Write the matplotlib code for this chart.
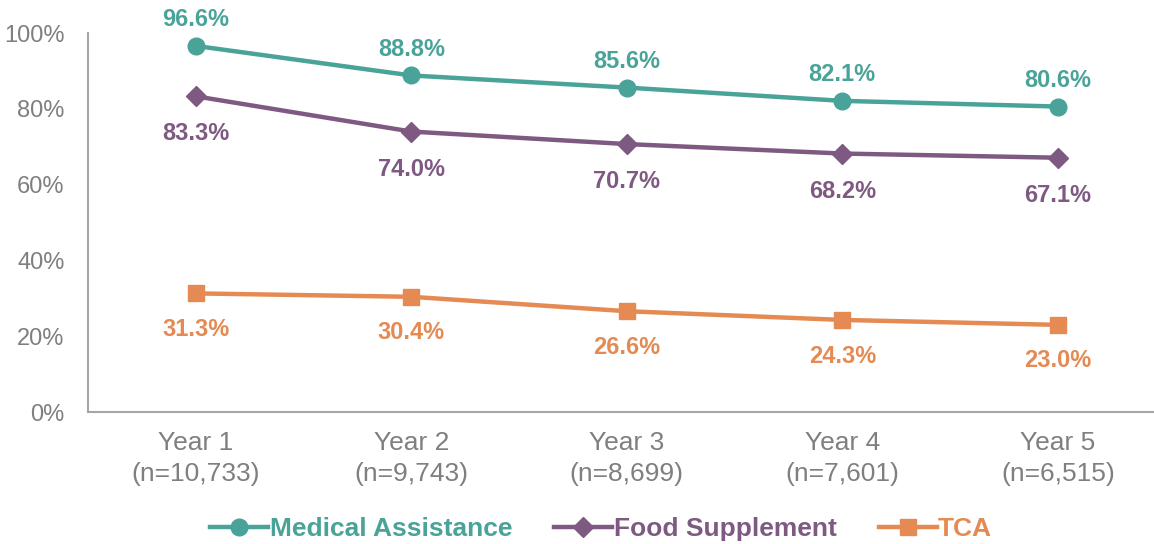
import matplotlib.pyplot as plt
from matplotlib.ticker import PercentFormatter

plt.rcParams['font.family'] = ['Liberation Sans', 'DejaVu Sans']

years = ["Year 1\n(n=10,733)", "Year 2\n(n=9,743)", "Year 3\n(n=8,699)",
         "Year 4\n(n=7,601)", "Year 5\n(n=6,515)"]
medical = [96.6, 88.8, 85.6, 82.1, 80.6]
food = [83.3, 74.0, 70.7, 68.2, 67.1]
tca = [31.3, 30.4, 26.6, 24.3, 23.0]

teal = "#49A398"
purple = "#7E5A82"
orange = "#E48A52"
grey = "#7F7F7F"

fig = plt.figure(figsize=(11.54, 5.44), dpi=100)
ax = fig.add_axes([0.0763, 0.2426, 0.9337, 0.6967])

x = list(range(len(years)))
series = [
    ("Medical Assistance", medical, teal, "o", 12, 19),
    ("Food Supplement", food, purple, "D", 10, -27),
    ("TCA", tca, orange, "s", 11, -26),
]
for name, vals, col, mk, ms, off in series:
    ax.plot(x, vals, color=col, lw=3.2, marker=mk, ms=ms, label=name,
            clip_on=False)
    for xi, v in zip(x, vals):
        ax.annotate(f"{v:.1f}%", (xi, v), xytext=(0, off),
                    textcoords="offset points", ha="center", va="center",
                    fontsize=17, fontweight="bold", color=col)

ax.set_xlim(-0.5, 4.5)
ax.set_ylim(0, 100)
ax.set_yticks([0, 20, 40, 60, 80, 100])
ax.yaxis.set_major_formatter(PercentFormatter(decimals=0))
ax.set_xticks(x)
ax.set_xticklabels(years, linespacing=1.35)
ax.tick_params(axis="both", length=0, labelcolor=grey)
ax.tick_params(axis="x", pad=14, labelsize=19)
ax.tick_params(axis="y", pad=17, labelsize=17)
for s in ["top", "right"]:
    ax.spines[s].set_visible(False)
for s in ["left", "bottom"]:
    ax.spines[s].set_color("#A6A6A6")
    ax.spines[s].set_linewidth(1.5)

leg = fig.legend(loc="center", bbox_to_anchor=(0.521, 0.027), ncol=3,
                 frameon=False, prop={"size": 19, "weight": "bold"},
                 handlelength=2.2, handletextpad=0.05, columnspacing=1.6)
for txt, (_, _, col, _, _, _) in zip(leg.get_texts(), series):
    txt.set_color(col)

fig.savefig("out.png", dpi=100)
